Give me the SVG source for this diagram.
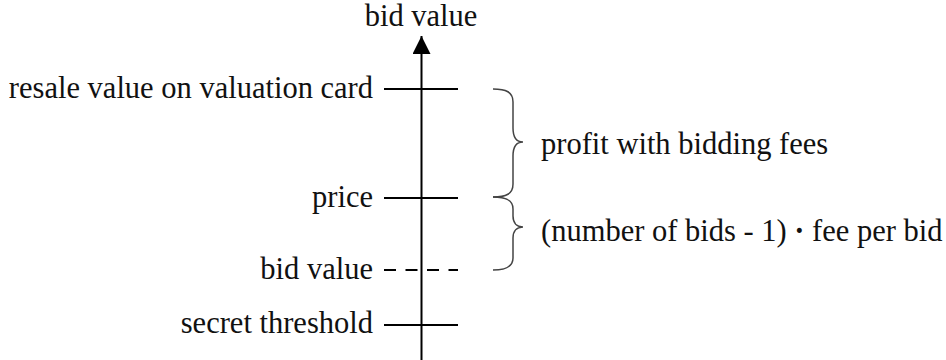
<svg xmlns="http://www.w3.org/2000/svg" width="946" height="360" viewBox="0 0 946 360">
<style>
.t{font-size:30.5px;fill:#111}
.l{text-anchor:end}
.tick{stroke:#000;stroke-width:2}
.brace{fill:none;stroke:#444;stroke-width:1.5}
</style>
<defs>
<marker id="ah" markerWidth="18" markerHeight="18" refX="18" refY="9" orient="auto" markerUnits="userSpaceOnUse">
<path d="M0,0 L18,9 L0,18 Z" fill="#000"/>
</marker>
</defs>
<rect width="946" height="360" fill="#fff"/>
<g id="connectors">
<line x1="421.5" y1="360" x2="421.5" y2="36" stroke="#000" stroke-width="2" marker-end="url(#ah)"/>
</g>
<g font-family="Liberation Serif, serif">
<g id="axis-label"><text class="t" x="421" y="26" text-anchor="middle">bid value</text></g>
<g id="resale"><text class="t l" x="373" y="98">resale value on valuation card</text><line class="tick" x1="384" y1="89" x2="458" y2="89"/></g>
<g id="price"><text class="t l" x="373" y="207">price</text><line class="tick" x1="384" y1="198" x2="458" y2="198"/></g>
<g id="bidvalue"><text class="t l" x="373" y="279">bid value</text><line class="tick" x1="384" y1="270" x2="458" y2="270" stroke-dasharray="12 9.5"/></g>
<g id="threshold"><text class="t l" x="373" y="333">secret threshold</text><line class="tick" x1="384" y1="325" x2="458" y2="325"/></g>
<g id="profit">
<path class="brace" d="M493,89 C506,89 513,92 513,102 L513,128 C513,138 517,142 523,142 C517,142 513,146 513,156 L513,184 C513,194 506,197 493,197"/>
<text class="t" x="541" y="154">profit with bidding fees</text>
</g>
<g id="fees">
<path class="brace" d="M493,197 C506,197 513,200 513,209 L513,216 C513,223 517,227 523,227 C517,227 513,231 513,238 L513,258 C513,266 506,270 493,270"/>
<text class="t" x="541" y="241">(number of bids - 1) <tspan font-weight="bold">·</tspan> fee per bid</text>
</g>
</g>
</svg>
